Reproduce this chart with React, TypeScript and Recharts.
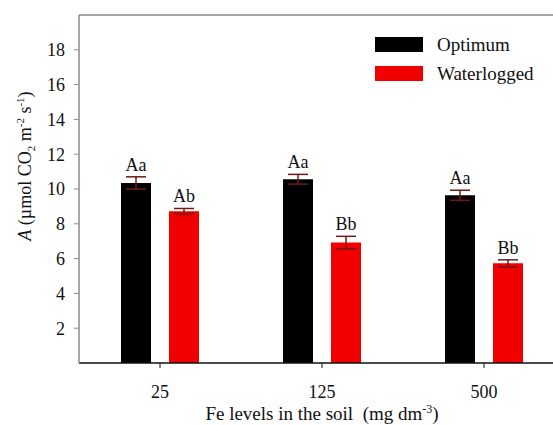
import React from "react";
import { Bar, BarChart, ErrorBar, LabelList, ReferenceLine, XAxis, YAxis } from "recharts";

const levels = ["25", "125", "500"];
const optimum = [10.35, 10.56, 9.64];
const optimumErr = [0.35, 0.28, 0.29];
const waterlogged = [8.72, 6.92, 5.73];
const waterloggedErr = [0.16, 0.36, 0.2];
const optimumLetters = ["Aa", "Aa", "Aa"];
const waterloggedLetters = ["Ab", "Bb", "Bb"];
const yTicks = [2, 4, 6, 8, 10, 12, 14, 16, 18];

const data = levels.map((level, i) => ({
  level,
  optimum: optimum[i],
  optimumErr: optimumErr[i],
  waterlogged: waterlogged[i],
  waterloggedErr: waterloggedErr[i]
}));

const serif = '"Liberation Serif", "Times New Roman", Tinos';
const errColor = "#6e1a1a";

function letterLabel(letters: string[], errs: number[]) {
  return (props: any) => {
    const { x, y, width, height, value, index } = props;
    const ppu = value ? height / value : 0;
    const top = y - errs[index] * ppu;
    return (
      <text x={x + width / 2} y={top - 6} textAnchor="middle" fontFamily={serif} fontSize={18} fill="#111">
        {letters[index]}
      </text>
    );
  };
}

function YTitle(props: any) {
  const vb = props.viewBox || { x: 0, y: 15 };
  const cx = vb.x + 31;
  const cy = vb.y + 151;
  return (
    <text x={cx} y={cy} transform={`rotate(-90, ${cx}, ${cy})`} textAnchor="middle" fontFamily={serif} fontSize={18} fill="#111">
      <tspan fontStyle="italic">A</tspan>
      <tspan> (µmol CO</tspan>
      <tspan dy={4} fontSize={11}>2</tspan>
      <tspan dy={-4}> m</tspan>
      <tspan dy={-7} fontSize={11}>-2</tspan>
      <tspan dy={7}> s</tspan>
      <tspan dy={-7} fontSize={11}>-1</tspan>
      <tspan dy={7}>)</tspan>
    </text>
  );
}

function XTitle() {
  return (
    <text x={322} y={420} textAnchor="middle" fontFamily={serif} fontSize={19} fill="#111" style={{ whiteSpace: "pre" }}>
      <tspan>Fe levels in the soil  (mg dm</tspan>
      <tspan dy={-7} fontSize={12}>-3</tspan>
      <tspan dy={7}>)</tspan>
    </text>
  );
}

const legendItems = [
  { name: "Optimum", color: "#000000" },
  { name: "Waterlogged", color: "#f20000" }
];

const tickStyle = { fill: "#111", fontSize: 18, fontFamily: serif };

export default function App() {
  return (
    <div style={{ position: "absolute", left: 0, top: 0, width: 553, height: 425, overflow: "hidden", background: "#fff", fontFamily: serif }}>
      <BarChart
        width={600}
        height={425}
        data={data}
        margin={{ top: 15, right: 35, left: 0, bottom: 22 }}
        barSize={30}
        barGap={18}
      >
        <ReferenceLine y={20} stroke="#8a8a8a" strokeWidth={1.5} />
        <XAxis
          dataKey="level"
          height={40}
          tickSize={5}
          tickMargin={17}
          tick={tickStyle}
          axisLine={{ stroke: "#111", strokeWidth: 1.5 }}
          tickLine={{ stroke: "#111" }}
          label={{ content: XTitle }}
        />
        <YAxis
          type="number"
          domain={[0, 20]}
          ticks={yTicks}
          width={79}
          tickSize={5}
          tickMargin={9}
          tick={tickStyle}
          axisLine={{ stroke: "#8a8a8a", strokeWidth: 1.5 }}
          tickLine={{ stroke: "#8a8a8a" }}
          label={{ content: YTitle }}
        />
        <Bar dataKey="optimum" name="Optimum" fill="#000000" isAnimationActive={false}>
          <ErrorBar dataKey="optimumErr" width={10} stroke={errColor} strokeWidth={1.5} isAnimationActive={false} />
          <LabelList dataKey="optimum" content={letterLabel(optimumLetters, optimumErr)} />
        </Bar>
        <Bar dataKey="waterlogged" name="Waterlogged" fill="#f20000" isAnimationActive={false}>
          <ErrorBar dataKey="waterloggedErr" width={10} stroke={errColor} strokeWidth={1.5} isAnimationActive={false} />
          <LabelList dataKey="waterlogged" content={letterLabel(waterloggedLetters, waterloggedErr)} />
        </Bar>
      </BarChart>
      <div style={{ position: "absolute", left: 375, top: 30, fontSize: 19, color: "#111", fontFamily: serif }}>
        {legendItems.map((item) => (
          <div key={item.name} style={{ display: "flex", alignItems: "center", height: 29 }}>
            <span style={{ width: 48, height: 15, background: item.color, marginRight: 14 }} />
            <span>{item.name}</span>
          </div>
        ))}
      </div>
    </div>
  );
}
